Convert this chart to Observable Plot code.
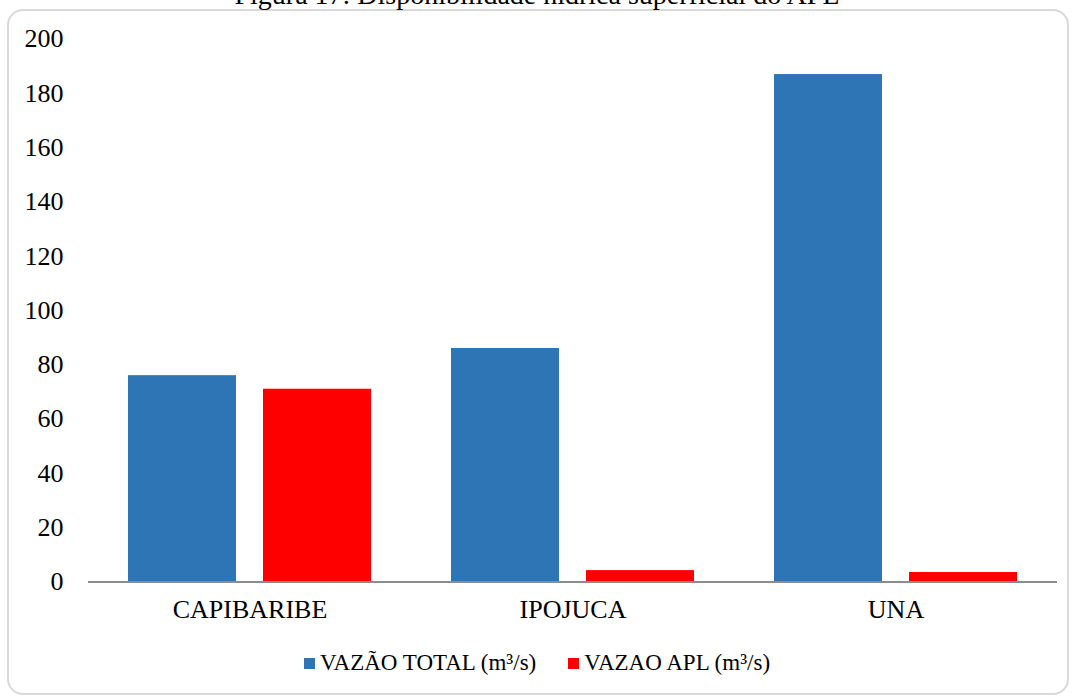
<!DOCTYPE html>
<html><head><meta charset="utf-8">
<script src="https://cdn.jsdelivr.net/npm/d3@7"></script>
<script src="https://cdn.jsdelivr.net/npm/@observablehq/plot@0.6"></script>
<style>
body{margin:0;background:#fff;font-family:"Liberation Serif","Times New Roman",serif;color:#000;}
#wrap{position:relative;width:1074px;height:697px;overflow:hidden;background:#fff;}
#title{position:absolute;left:0;width:1074px;top:-19px;line-height:28px;text-align:center;font-size:28px;}
#frame{position:absolute;left:7px;top:9px;width:1062px;height:686px;border:2px solid #d9d9d9;border-radius:16px;box-sizing:border-box;}
#chart{position:absolute;left:0;top:0;}
#legend{position:absolute;left:0;width:1074px;top:650px;line-height:26px;text-align:center;font-size:23px;white-space:nowrap;}
#legend .item{display:inline-block;margin:0 16px;}
#legend .sw{display:inline-block;width:11px;height:11px;margin-right:5px;vertical-align:1px;}
</style></head>
<body>
<div id="wrap">
  <div id="frame"></div>
  <div id="title">Figura 17: Disponibilidade hídrica superficial do APL</div>
  <div id="chart"></div>
  <div id="legend"></div>
</div>
<script>
const categories = ["CAPIBARIBE", "IPOJUCA", "UNA"];
const seriesNames = ["VAZÃO TOTAL (m³/s)", "VAZAO APL (m³/s)"];
const vazaoTotal = [76, 86, 186.9];
const vazaoApl = [71, 4.2, 3.5];
const yTicks = [0, 20, 40, 60, 80, 100, 120, 140, 160, 180, 200];
const colors = ["#2e75b6", "#ff0000"];

const data = [];
categories.forEach((c, i) => {
  data.push({cat: c, series: seriesNames[0], value: vazaoTotal[i]});
  data.push({cat: c, series: seriesNames[1], value: vazaoApl[i]});
});

const chart = Plot.plot({
  width: 1074,
  height: 640,
  marginLeft: 88,
  marginRight: 17,
  marginTop: 38.5,
  marginBottom: 58.5,
  style: {fontFamily: "'Liberation Serif', 'Times New Roman', serif", fontSize: "26px", color: "#000", background: "transparent"},
  fx: {domain: categories, padding: 0, label: null, tickSize: 0, tickPadding: 18, axis: "bottom"},
  x: {domain: seriesNames, axis: null, paddingInner: 0.2, paddingOuter: 0.296},
  y: {domain: [0, 200], ticks: yTicks, tickSize: 0, tickPadding: 25, label: null, tickFormat: d => String(d)},
  color: {domain: seriesNames, range: colors},
  marks: [
    Plot.barY(data, {fx: "cat", x: "series", y: "value", fill: "series"}),
    Plot.ruleY([0], {stroke: "#8c8c8c", strokeWidth: 2})
  ]
});
document.getElementById("chart").appendChild(chart);

const legend = document.getElementById("legend");
seriesNames.forEach((s, i) => {
  const item = document.createElement("span");
  item.className = "item";
  const sw = document.createElement("span");
  sw.className = "sw";
  sw.style.background = colors[i];
  item.appendChild(sw);
  item.appendChild(document.createTextNode(s));
  legend.appendChild(item);
});
</script>
</body></html>
